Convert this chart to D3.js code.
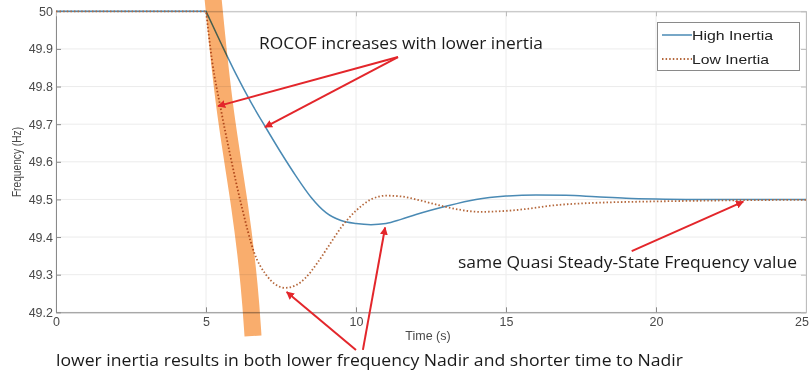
<!DOCTYPE html>
<html>
<head>
<meta charset="utf-8">
<script src="https://cdn.jsdelivr.net/npm/d3@7"></script>
<style>
  body { margin: 0; background: #fff; }
  svg { display: block; }
  .tick text { font-family: "Liberation Sans", Arial, sans-serif; font-size: 12.5px; fill: #4a4a4a; }
  .note { font-family: "Open Sans", sans-serif; font-size: 15.5px; fill: #1a1a1a; }
</style>
</head>
<body>
<div id="chart"></div>
<script>
// series data (time in s, frequency in Hz)
const highTime = [0, 5, 5.5, 6.0, 6.5, 7.0, 7.5, 8.0, 8.5, 9.0, 9.5, 10.0, 10.5, 11.0, 11.5, 12.0, 13.0, 14.0, 15.0, 16.0, 17.0, 18.0, 19.0, 20, 21, 25];
const highFreq = [50, 50, 49.915, 49.833, 49.758, 49.69, 49.624, 49.562, 49.506, 49.465, 49.444, 49.436, 49.433, 49.436, 49.447, 49.46, 49.482, 49.5, 49.509, 49.512, 49.511, 49.507, 49.503, 49.501, 49.5, 49.5];
const lowTime = [0, 5, 5.2, 5.5, 5.8, 6.2, 6.6, 7.0, 7.3, 7.63, 8.0, 8.3, 8.7, 9.08, 9.5, 10.0, 10.5, 11.0, 11.5, 12.0, 12.5, 13.0, 13.5, 14.13, 15.24, 16.69, 18.36, 19.47, 21, 23, 25];
const lowFreq = [50, 50, 49.87, 49.738, 49.62, 49.478, 49.36, 49.3, 49.275, 49.265, 49.272, 49.29, 49.33, 49.375, 49.425, 49.47, 49.5, 49.51, 49.508, 49.5, 49.49, 49.48, 49.472, 49.467, 49.471, 49.485, 49.492, 49.494, 49.496, 49.498, 49.499];

const seriesNames = ["High Inertia", "Low Inertia"];
const xTicks = [0, 5, 10, 15, 20, 25];
const yTicks = [49.2, 49.3, 49.4, 49.5, 49.6, 49.7, 49.8, 49.9, 50];

// annotation arrows, [tailTime, tailFreq, tipTime, tipFreq]
const arrows = [
  [11.4, 49.8785, 5.4, 49.748],
  [11.4, 49.8785, 6.967, 49.692],
  [10.0, 49.1, 7.69, 49.254],
  [10.23, 49.1, 10.97, 49.4255],
  [19.19, 49.3625, 22.91, 49.494]
];

const W = 810, H = 375;
const x = d3.scaleLinear().domain([0, 25]).range([56, 806]);
const y = d3.scaleLinear().domain([49.2, 50]).range([312.3, 11.3]);

const svg = d3.select("#chart").append("svg")
  .attr("width", W).attr("height", H);

// grid
svg.append("g")
  .selectAll("line").data(xTicks).enter().append("line")
  .attr("x1", d => x(d)).attr("x2", d => x(d))
  .attr("y1", y(49.2)).attr("y2", y(50))
  .attr("stroke", "#ececec");
svg.append("g")
  .selectAll("line").data(yTicks).enter().append("line")
  .attr("x1", x(0)).attr("x2", x(25))
  .attr("y1", d => y(d)).attr("y2", d => y(d))
  .attr("stroke", "#ececec");

// axes (ticks inside, matlab style)
const xAxis = d3.axisBottom(x).tickValues(xTicks).tickFormat(d3.format("d")).tickSizeInner(-5).tickSizeOuter(0).tickPadding(5);
const yAxis = d3.axisLeft(y).tickValues(yTicks).tickFormat(d => d === 50 ? "50" : d3.format(".1f")(d)).tickSizeInner(-5).tickSizeOuter(0).tickPadding(3);

const gx = svg.append("g").attr("transform", "translate(0," + y(49.2) + ")").call(xAxis);
const gy = svg.append("g").attr("transform", "translate(" + x(0) + ",0)").call(yAxis);
const gt = svg.append("g").attr("transform", "translate(0," + y(50) + ")")
  .call(d3.axisTop(x).tickValues(xTicks).tickFormat("").tickSizeInner(-5).tickSizeOuter(0));
const gr = svg.append("g").attr("transform", "translate(" + x(25) + ",0)")
  .call(d3.axisRight(y).tickValues(yTicks).tickFormat("").tickSizeInner(-5).tickSizeOuter(0));
[gx, gy].forEach(g => { g.select(".domain").attr("stroke", "#8a8a8a"); g.selectAll(".tick line").attr("stroke", "#8a8a8a"); });
[gt, gr].forEach(g => { g.select(".domain").attr("stroke", "#bdbdbd"); g.selectAll(".tick line").attr("stroke", "#bdbdbd"); });
// last label sits on the right edge of the window
gx.selectAll(".tick text").filter(d => d === 25).attr("text-anchor", "end").attr("dx", "0.2em");

// axis labels
svg.append("text")
  .attr("x", 428).attr("y", 340)
  .attr("text-anchor", "middle")
  .style("font-family", "Liberation Sans, Arial, sans-serif").style("font-size", "12.5px").style("fill", "#4a4a4a")
  .text("Time (s)");
svg.append("text")
  .attr("transform", "translate(21,162) rotate(-90) scale(0.85,1)")
  .attr("text-anchor", "middle")
  .style("font-family", "Liberation Sans, Arial, sans-serif").style("font-size", "12px").style("fill", "#4a4a4a")
  .text("Frequency (Hz)");

// lines: flat part straight, drop and recovery smoothed, so the step at t=5 stays sharp
const flat = d3.line().x(d => x(d[0])).y(d => y(d[1]));
const smooth = d3.line().x(d => x(d[0])).y(d => y(d[1])).curve(d3.curveMonotoneX);
function drawSeries(ts, fs, color, dash, sw) {
  const pts = ts.map((t, i) => [t, fs[i]]);
  const k = ts.indexOf(5);
  const d = flat(pts.slice(0, k + 1)) + smooth(pts.slice(k)).replace(/^M[^LC]*/, "");
  svg.append("path").attr("d", d)
    .attr("fill", "none").attr("stroke", color).attr("stroke-width", sw)
    .attr("stroke-dasharray", dash);
}
drawSeries(highTime, highFreq, "#4a8ab4", null, 1.5);
drawSeries(lowTime, lowFreq, "#b5683c", "1.5,2.1", 1.8);

// highlighter stroke
svg.append("path")
  .attr("d", d3.line().curve(d3.curveBasis)([[213, -2], [224, 110], [241, 210], [250, 290], [253, 336]]))
  .attr("fill", "none").attr("stroke", "#f9ad6d").attr("stroke-width", 17)
  .style("mix-blend-mode", "multiply");

// legend
const lg = svg.append("g");
lg.append("rect").attr("x", 657.5).attr("y", 22.5).attr("width", 142).attr("height", 48)
  .attr("fill", "#fff").attr("stroke", "#8a8a8a");
seriesNames.forEach((name, i) => {
  const yy = 35 + i * 24;
  lg.append("line").attr("x1", 662).attr("x2", 692).attr("y1", yy).attr("y2", yy)
    .attr("stroke", i === 0 ? "#4a8ab4" : "#b5683c").attr("stroke-width", i === 0 ? 1.5 : 1.8)
    .attr("stroke-dasharray", i === 0 ? null : "1.5,2.1");
  lg.append("text").attr("x", 692).attr("y", yy + 4.5)
    .attr("textLength", i === 0 ? 81 : 77).attr("lengthAdjust", "spacingAndGlyphs")
    .style("font-family", "Liberation Sans, Arial, sans-serif").style("font-size", "13px").style("fill", "#222")
    .text(name);
});

// arrows
svg.append("defs").append("marker")
  .attr("id", "head").attr("viewBox", "0 0 10 10").attr("refX", 9).attr("refY", 5)
  .attr("markerWidth", 4).attr("markerHeight", 4).attr("orient", "auto")
  .append("path").attr("d", "M0,0L10,5L0,10z").attr("fill", "#e3262b");
svg.append("g").selectAll("line").data(arrows).enter().append("line")
  .attr("x1", d => x(d[0])).attr("y1", d => y(d[1]))
  .attr("x2", d => x(d[2])).attr("y2", d => y(d[3]))
  .attr("stroke", "#e3262b").attr("stroke-width", 2)
  .attr("marker-end", "url(#head)");

// notes
svg.append("text").attr("class", "note").attr("x", 259).attr("y", 49)
  .attr("textLength", 284).attr("lengthAdjust", "spacingAndGlyphs")
  .text("ROCOF increases with lower inertia");
svg.append("text").attr("class", "note").attr("x", 458).attr("y", 268)
  .attr("textLength", 339).attr("lengthAdjust", "spacingAndGlyphs")
  .text("same Quasi Steady-State Frequency value");
svg.append("text").attr("class", "note").attr("x", 56).attr("y", 366)
  .attr("textLength", 627).attr("lengthAdjust", "spacingAndGlyphs")
  .text("lower inertia results in both lower frequency Nadir and shorter time to Nadir");
</script>
</body>
</html>
